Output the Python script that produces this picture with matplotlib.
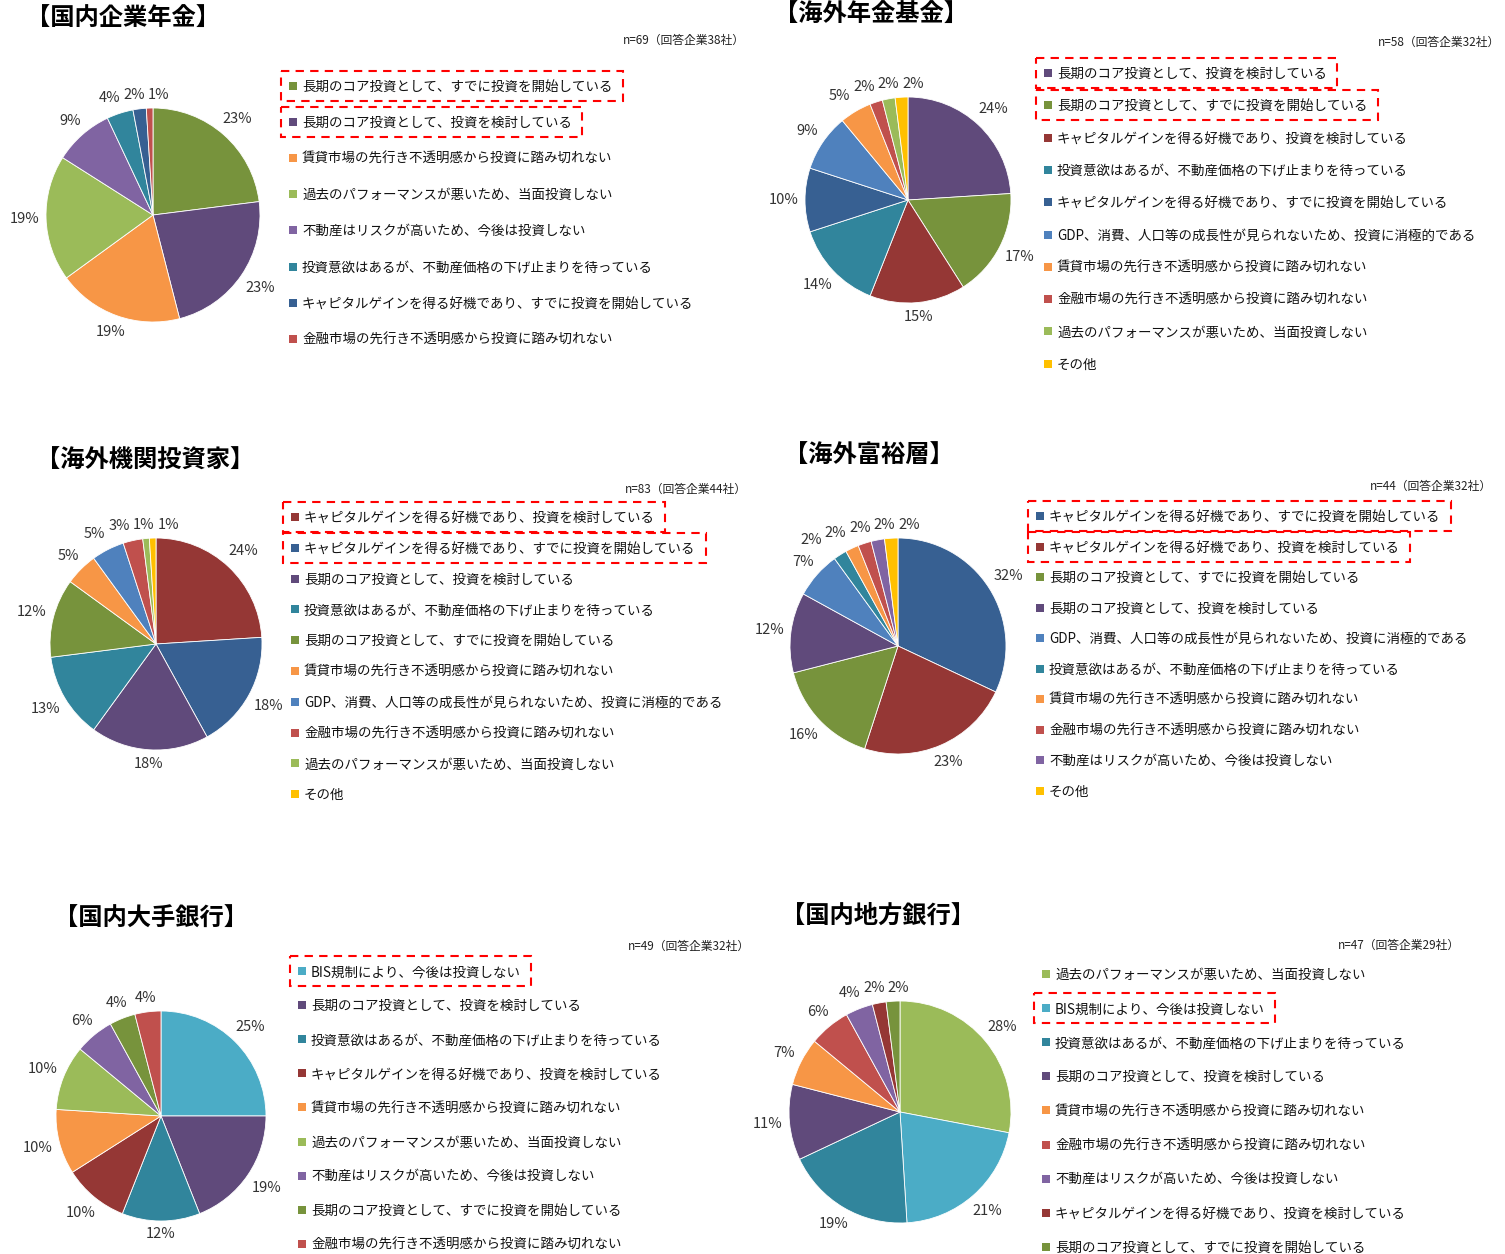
import matplotlib
matplotlib.use('Agg')
import numpy as np
import matplotlib.pyplot as plt
from matplotlib.patches import Rectangle

plt.rcParams['font.family'] = ['Noto Sans CJK JP', 'DejaVu Sans']

W, H = 1505, 1254

# answer categories
CORE_DONE = '長期のコア投資として、すでに投資を開始している'
CORE_PLAN = '長期のコア投資として、投資を検討している'
RENT = '賃貸市場の先行き不透明感から投資に踏み切れない'
PAST = '過去のパフォーマンスが悪いため、当面投資しない'
RISK = '不動産はリスクが高いため、今後は投資しない'
WAIT = '投資意欲はあるが、不動産価格の下げ止まりを待っている'
CAP_DONE = 'キャピタルゲインを得る好機であり、すでに投資を開始している'
CAP_PLAN = 'キャピタルゲインを得る好機であり、投資を検討している'
FIN = '金融市場の先行き不透明感から投資に踏み切れない'
GDP = 'GDP、消費、人口等の成長性が見られないため、投資に消極的である'
BIS = 'BIS規制により、今後は投資しない'
OTHER = 'その他'

colors = {
    CORE_DONE: '#77933C', CORE_PLAN: '#604A7B', RENT: '#F79646',
    PAST: '#9BBB59', RISK: '#8064A2', WAIT: '#31859C',
    CAP_DONE: '#376092', CAP_PLAN: '#953735', FIN: '#C0504D',
    GDP: '#4F81BD', BIS: '#4BACC6', OTHER: '#FFC000',
}

titles = ['【国内企業年金】', '【海外年金基金】', '【海外機関投資家】',
          '【海外富裕層】', '【国内大手銀行】', '【国内地方銀行】']
sample_notes = ['n=69（回答企業38社）', 'n=58（回答企業32社）', 'n=83（回答企業44社）',
                'n=44（回答企業32社）', 'n=49（回答企業32社）', 'n=47（回答企業29社）']

jp_pension_cats = [CORE_DONE, CORE_PLAN, RENT, PAST, RISK, WAIT, CAP_DONE, FIN]
jp_pension_vals = [23, 23, 19, 19, 9, 4, 2, 1]

os_pension_cats = [CORE_PLAN, CORE_DONE, CAP_PLAN, WAIT, CAP_DONE, GDP, RENT, FIN, PAST, OTHER]
os_pension_vals = [24, 17, 15, 14, 10, 9, 5, 2, 2, 2]

os_inst_cats = [CAP_PLAN, CAP_DONE, CORE_PLAN, WAIT, CORE_DONE, RENT, GDP, FIN, PAST, OTHER]
os_inst_vals = [24, 18, 18, 13, 12, 5, 5, 3, 1, 1]

os_wealthy_cats = [CAP_DONE, CAP_PLAN, CORE_DONE, CORE_PLAN, GDP, WAIT, RENT, FIN, RISK, OTHER]
os_wealthy_vals = [32, 23, 16, 12, 7, 2, 2, 2, 2, 2]

jp_major_cats = [BIS, CORE_PLAN, WAIT, CAP_PLAN, RENT, PAST, RISK, CORE_DONE, FIN]
jp_major_vals = [25, 19, 12, 10, 10, 10, 6, 4, 4]

jp_regional_cats = [PAST, BIS, WAIT, CORE_PLAN, RENT, FIN, RISK, CAP_PLAN, CORE_DONE]
jp_regional_vals = [28, 21, 19, 11, 7, 6, 4, 2, 2]

panel_cats = [jp_pension_cats, os_pension_cats, os_inst_cats,
              os_wealthy_cats, jp_major_cats, jp_regional_cats]
panel_vals = [jp_pension_vals, os_pension_vals, os_inst_vals,
              os_wealthy_vals, jp_major_vals, jp_regional_vals]
highlight = [[0, 1], [0, 1], [0, 1], [0, 1], [0], [1]]

# layout in pixels: pie centre / radius, title, note, legend (marker x, first row y, step)
pie_geom = [(153, 215, 107), (908, 200, 103), (156, 644, 106),
            (898, 646, 108), (161, 1116, 105), (900, 1112, 111)]
title_xy = [(26, 19), (774, 15), (36, 461), (784, 456), (54, 919), (781, 916)]
note_xy = [(745, 40), (1500, 42), (747, 489), (1492, 486), (750, 946), (1460, 945)]
legend_geom = [(293, 87, 36.1), (1048, 74, 32.3), (295, 518, 30.8),
               (1040, 517, 30.5), (302, 972, 34.1), (1046, 975, 34.1)]


def place_labels(ax, wedges, texts, r_px, renderer, gap=6):
    """Put each label just outside its wedge, box edge a fixed gap from the rim."""
    for w, t in zip(wedges, texts):
        ang = np.deg2rad((w.theta1 + w.theta2) / 2)
        t.set_ha('center')
        t.set_va('center')
        bb = t.get_window_extent(renderer)
        d = r_px + gap + bb.width / 2 * abs(np.cos(ang)) + bb.height / 2 * abs(np.sin(ang))
        t.set_position((d / r_px * np.cos(ang), d / r_px * np.sin(ang)))


def spread_labels(ax, texts, renderer, gap=3, n_iter=200):
    """Push overlapping percentage labels apart sideways."""
    boxes = [t.get_window_extent(renderer) for t in texts]
    shift = [0.0] * len(texts)
    for _ in range(n_iter):
        moved = False
        for a in range(len(texts)):
            for b in range(a + 1, len(texts)):
                ba, bb = boxes[a], boxes[b]
                xa0, xa1 = ba.x0 + shift[a], ba.x1 + shift[a]
                xb0, xb1 = bb.x0 + shift[b], bb.x1 + shift[b]
                if ba.y1 < bb.y0 or bb.y1 < ba.y0:
                    continue
                ov = min(xa1, xb1) - max(xa0, xb0) + gap
                if ov <= 0:
                    continue
                if (xa0 + xa1) <= (xb0 + xb1):
                    shift[a] -= ov / 2
                    shift[b] += ov / 2
                else:
                    shift[a] += ov / 2
                    shift[b] -= ov / 2
                moved = True
        if not moved:
            break
    inv = ax.transData.inverted()
    for t, s in zip(texts, shift):
        px, py = ax.transData.transform(t.get_position())
        t.set_position(inv.transform((px + s, py)))


fig = plt.figure(figsize=(W / 100, H / 100), dpi=100)
ov = fig.add_axes([0, 0, 1, 1])
ov.set_xlim(0, W)
ov.set_ylim(H, 0)
ov.axis('off')
renderer = fig.canvas.get_renderer()

for i in range(6):
    cats, vals = panel_cats[i], panel_vals[i]
    cx, cy, r = pie_geom[i]
    ax = fig.add_axes([(cx - r) / W, 1 - (cy + r) / H, 2 * r / W, 2 * r / H])
    wedges, texts = ax.pie(vals, colors=[colors[c] for c in cats], startangle=90,
                           counterclock=False, labels=[f'{v}%' for v in vals],
                           wedgeprops=dict(edgecolor='white', linewidth=0.6),
                           textprops=dict(fontsize=10.5, color='#333333'))
    ax.set_xlim(-1, 1)
    ax.set_ylim(-1, 1)
    place_labels(ax, wedges, texts, r, renderer)
    spread_labels(ax, texts, renderer)

    tx, ty = title_xy[i]
    ov.text(tx, ty, titles[i], fontsize=17.5, fontweight='bold', ha='left', va='center')
    nx, ny = note_xy[i]
    ov.text(nx, ny, sample_notes[i], fontsize=8.5, ha='right', va='center', color='#222222')

    mx, y0, step = legend_geom[i]
    for j, c in enumerate(cats):
        y = y0 + j * step
        ov.add_patch(Rectangle((mx - 4, y - 5), 8, 8, color=colors[c], lw=0))
        t = ov.text(mx + 9, y, c, fontsize=9.7, ha='left', va='center', color='#111111')
        if j in highlight[i]:
            bb = t.get_window_extent(renderer)
            ov.add_patch(Rectangle((mx - 12, y - 16), bb.x1 + 10 - (mx - 12), 30,
                                   fill=False, ec='#FF0000', lw=1.5, ls=(0, (4, 3))))

fig.savefig('out.png', dpi=100)
